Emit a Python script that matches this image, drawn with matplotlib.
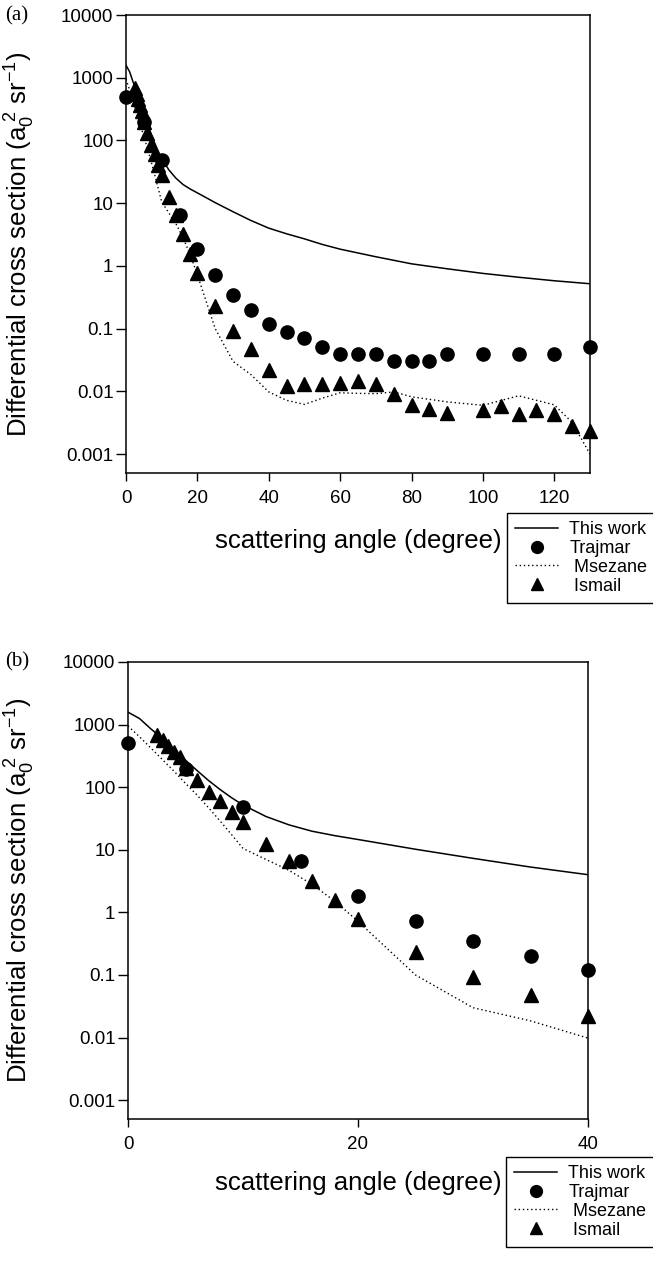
"""
Differential cross section vs scattering angle, two panels:
(a) full angular range 0-130 deg, (b) zoom on 0-40 deg.
"""

import numpy as np
import matplotlib
matplotlib.use("Agg")
import matplotlib.pyplot as plt
from matplotlib.lines import Line2D
from matplotlib.ticker import FixedLocator, FixedFormatter, NullLocator

# ── DATA ───────────────────────────────────────────────────────────────────────
# This work (solid line)
work_deg = [0, 1, 2, 3, 4, 5, 6, 7, 8, 9, 10, 12, 14, 16, 18, 20, 25, 30, 35,
            40, 45, 50, 55, 60, 70, 80, 90, 100, 110, 120, 130]
work_dcs = [1580, 1250, 850, 600, 400, 270, 185, 128, 92, 68, 52, 34, 25, 19.8,
            16.8, 14.6, 10.2, 7.3, 5.3, 4.0, 3.25, 2.7, 2.2, 1.85, 1.4, 1.08,
            0.9, 0.76, 0.66, 0.58, 0.52]

# Trajmar (circles)
trajmar_deg = [0, 5, 10, 15, 20, 25, 30, 35, 40, 45, 50, 55, 60, 65, 70, 75,
               80, 85, 90, 100, 110, 120, 130]
trajmar_dcs = [500, 195, 48, 6.6, 1.85, 0.72, 0.35, 0.2, 0.12, 0.09, 0.07,
               0.051, 0.04, 0.04, 0.04, 0.031, 0.031, 0.031, 0.04, 0.04, 0.04,
               0.04, 0.051]

# Msezane (dotted line)
msezane_deg = [0, 1, 2, 3, 4, 5, 6, 7, 8, 9, 10, 12, 14, 16, 18, 20, 25, 30, 35,
               40, 45, 50, 55, 60, 65, 70, 75, 80, 90, 100, 110, 120, 125, 130]
msezane_dcs = [950, 640, 420, 275, 180, 115, 75, 47, 29, 17.5, 10.5, 7, 4.7,
               2.8, 1.5, 0.72, 0.1, 0.03, 0.0185, 0.0098, 0.0072, 0.0062,
               0.0078, 0.0095, 0.0093, 0.0092, 0.0098, 0.0082, 0.0068, 0.006,
               0.0085, 0.0061, 0.0032, 0.001]

# Ismail (triangles)
ismail_deg = [2.5, 3, 3.5, 4, 4.5, 5, 6, 7, 8, 9, 10, 12, 14, 16, 18, 20, 25,
              30, 35, 40, 45, 50, 55, 60, 65, 70, 75, 80, 85, 90, 100, 105, 110,
              115, 120, 125, 130]
ismail_dcs = [690, 560, 460, 370, 300, 200, 130, 85, 60, 40, 28, 12.5, 6.5, 3.2,
              1.55, 0.77, 0.23, 0.092, 0.047, 0.022, 0.0122, 0.013, 0.013,
              0.0138, 0.0145, 0.013, 0.009, 0.006, 0.0052, 0.0046, 0.005,
              0.0058, 0.0044, 0.005, 0.0043, 0.0028, 0.0023]

y_ticks = [1e4, 1e3, 1e2, 10, 1, 0.1, 0.01, 0.001]
y_tick_labels = ["10000", "1000", "100", "10", "1", "0.1", "0.01", "0.001"]
x_ticks_a = [0, 20, 40, 60, 80, 100, 120]
x_ticks_b = [0, 20, 40]
legend_labels = ["This work", "Trajmar", " Msezane", " Ismail"]
# ───────────────────────────────────────────────────────────────────────────────

plt.rcParams['font.family'] = ['Liberation Sans', 'DejaVu Sans']
plt.rcParams['mathtext.fontset'] = 'custom'
plt.rcParams['mathtext.rm'] = 'Liberation Sans'
plt.rcParams['mathtext.it'] = 'Liberation Sans:italic'

W, H = 653, 1261
fig = plt.figure(figsize=(W / 100, H / 100), dpi=100)


def px_axes(left, top, right, bottom):
    return fig.add_axes([left / W, 1 - bottom / H, (right - left) / W,
                         (bottom - top) / H])


def clip_x(xs, ys, xmax):
    xs, ys = np.asarray(xs, float), np.asarray(ys, float)
    keep = xs <= xmax
    return xs[keep], ys[keep]


def draw_panel(ax, xmax, xticks, tag, legend_xy, ylab_x, xlab_y):
    x, y = clip_x(work_deg, work_dcs, xmax)
    ax.plot(x, y, color='black', lw=1.1, ls='-', zorder=2)
    x, y = clip_x(msezane_deg, msezane_dcs, xmax)
    ax.plot(x, y, color='black', lw=1.0, ls=(0, (1, 2)), zorder=2)

    x, y = clip_x(trajmar_deg, trajmar_dcs, xmax)
    ax.plot(x, y, ls='none', marker='o', ms=9.5, color='black',
            clip_on=False, zorder=3)
    x, y = clip_x(ismail_deg, ismail_dcs, xmax)
    ax.plot(x, y, ls='none', marker='^', ms=9.5, color='black',
            clip_on=False, zorder=3)

    ax.set_yscale('log')
    ax.set_xlim(0, xmax)
    ax.set_ylim(5e-4, 1e4)
    ax.yaxis.set_major_locator(FixedLocator(y_ticks))
    ax.yaxis.set_major_formatter(FixedFormatter(y_tick_labels))
    ax.yaxis.set_minor_locator(NullLocator())
    ax.xaxis.set_major_locator(FixedLocator(xticks))
    ax.xaxis.set_minor_locator(NullLocator())

    ax.tick_params(axis='y', direction='out', length=7, width=1.0,
                   labelsize=13.5, pad=2)
    ax.tick_params(axis='x', direction='out', length=6, width=1.0,
                   labelsize=13.5, pad=6)
    for sp in ax.spines.values():
        sp.set_linewidth(1.1)

    ax.set_ylabel(r"Differential cross section (a$_0^{\ 2}$ sr$^{-1}$)",
                  fontsize=18.5)
    ax.yaxis.set_label_coords(ylab_x, 0.5)
    ax.set_xlabel("scattering angle (degree)", fontsize=18.5)
    ax.xaxis.set_label_coords(0.5, xlab_y)

    fig.text(5 / W, 1 - tag[1] / H, tag[0], family='Liberation Serif',
             fontsize=15, va='center', ha='left')

    handles = [
        Line2D([], [], color='black', lw=1.1),
        Line2D([], [], ls='none', marker='o', ms=8.5, color='black'),
        Line2D([], [], color='black', lw=1.0, ls=(0, (1, 2))),
        Line2D([], [], ls='none', marker='^', ms=8.5, color='black'),
    ]
    leg = fig.legend(handles, legend_labels, loc='upper left',
                     bbox_to_anchor=(legend_xy[0] / W, 1 - legend_xy[1] / H),
                     fontsize=13, frameon=True, fancybox=False,
                     edgecolor='black', framealpha=1, borderpad=0.45,
                     labelspacing=0.1, handlelength=2.4, handletextpad=0.6,
                     borderaxespad=0)
    leg.get_frame().set_linewidth(1.0)


ax_a = px_axes(126, 15, 590, 473)
draw_panel(ax_a, 130, x_ticks_a, ("(a)", 16), (507, 513), -0.192, -0.122)

ax_b = px_axes(128, 662, 588, 1119)
draw_panel(ax_b, 40, x_ticks_b, ("(b)", 662), (506, 1157), -0.198, -0.114)

fig.savefig("out.png", dpi=100)
